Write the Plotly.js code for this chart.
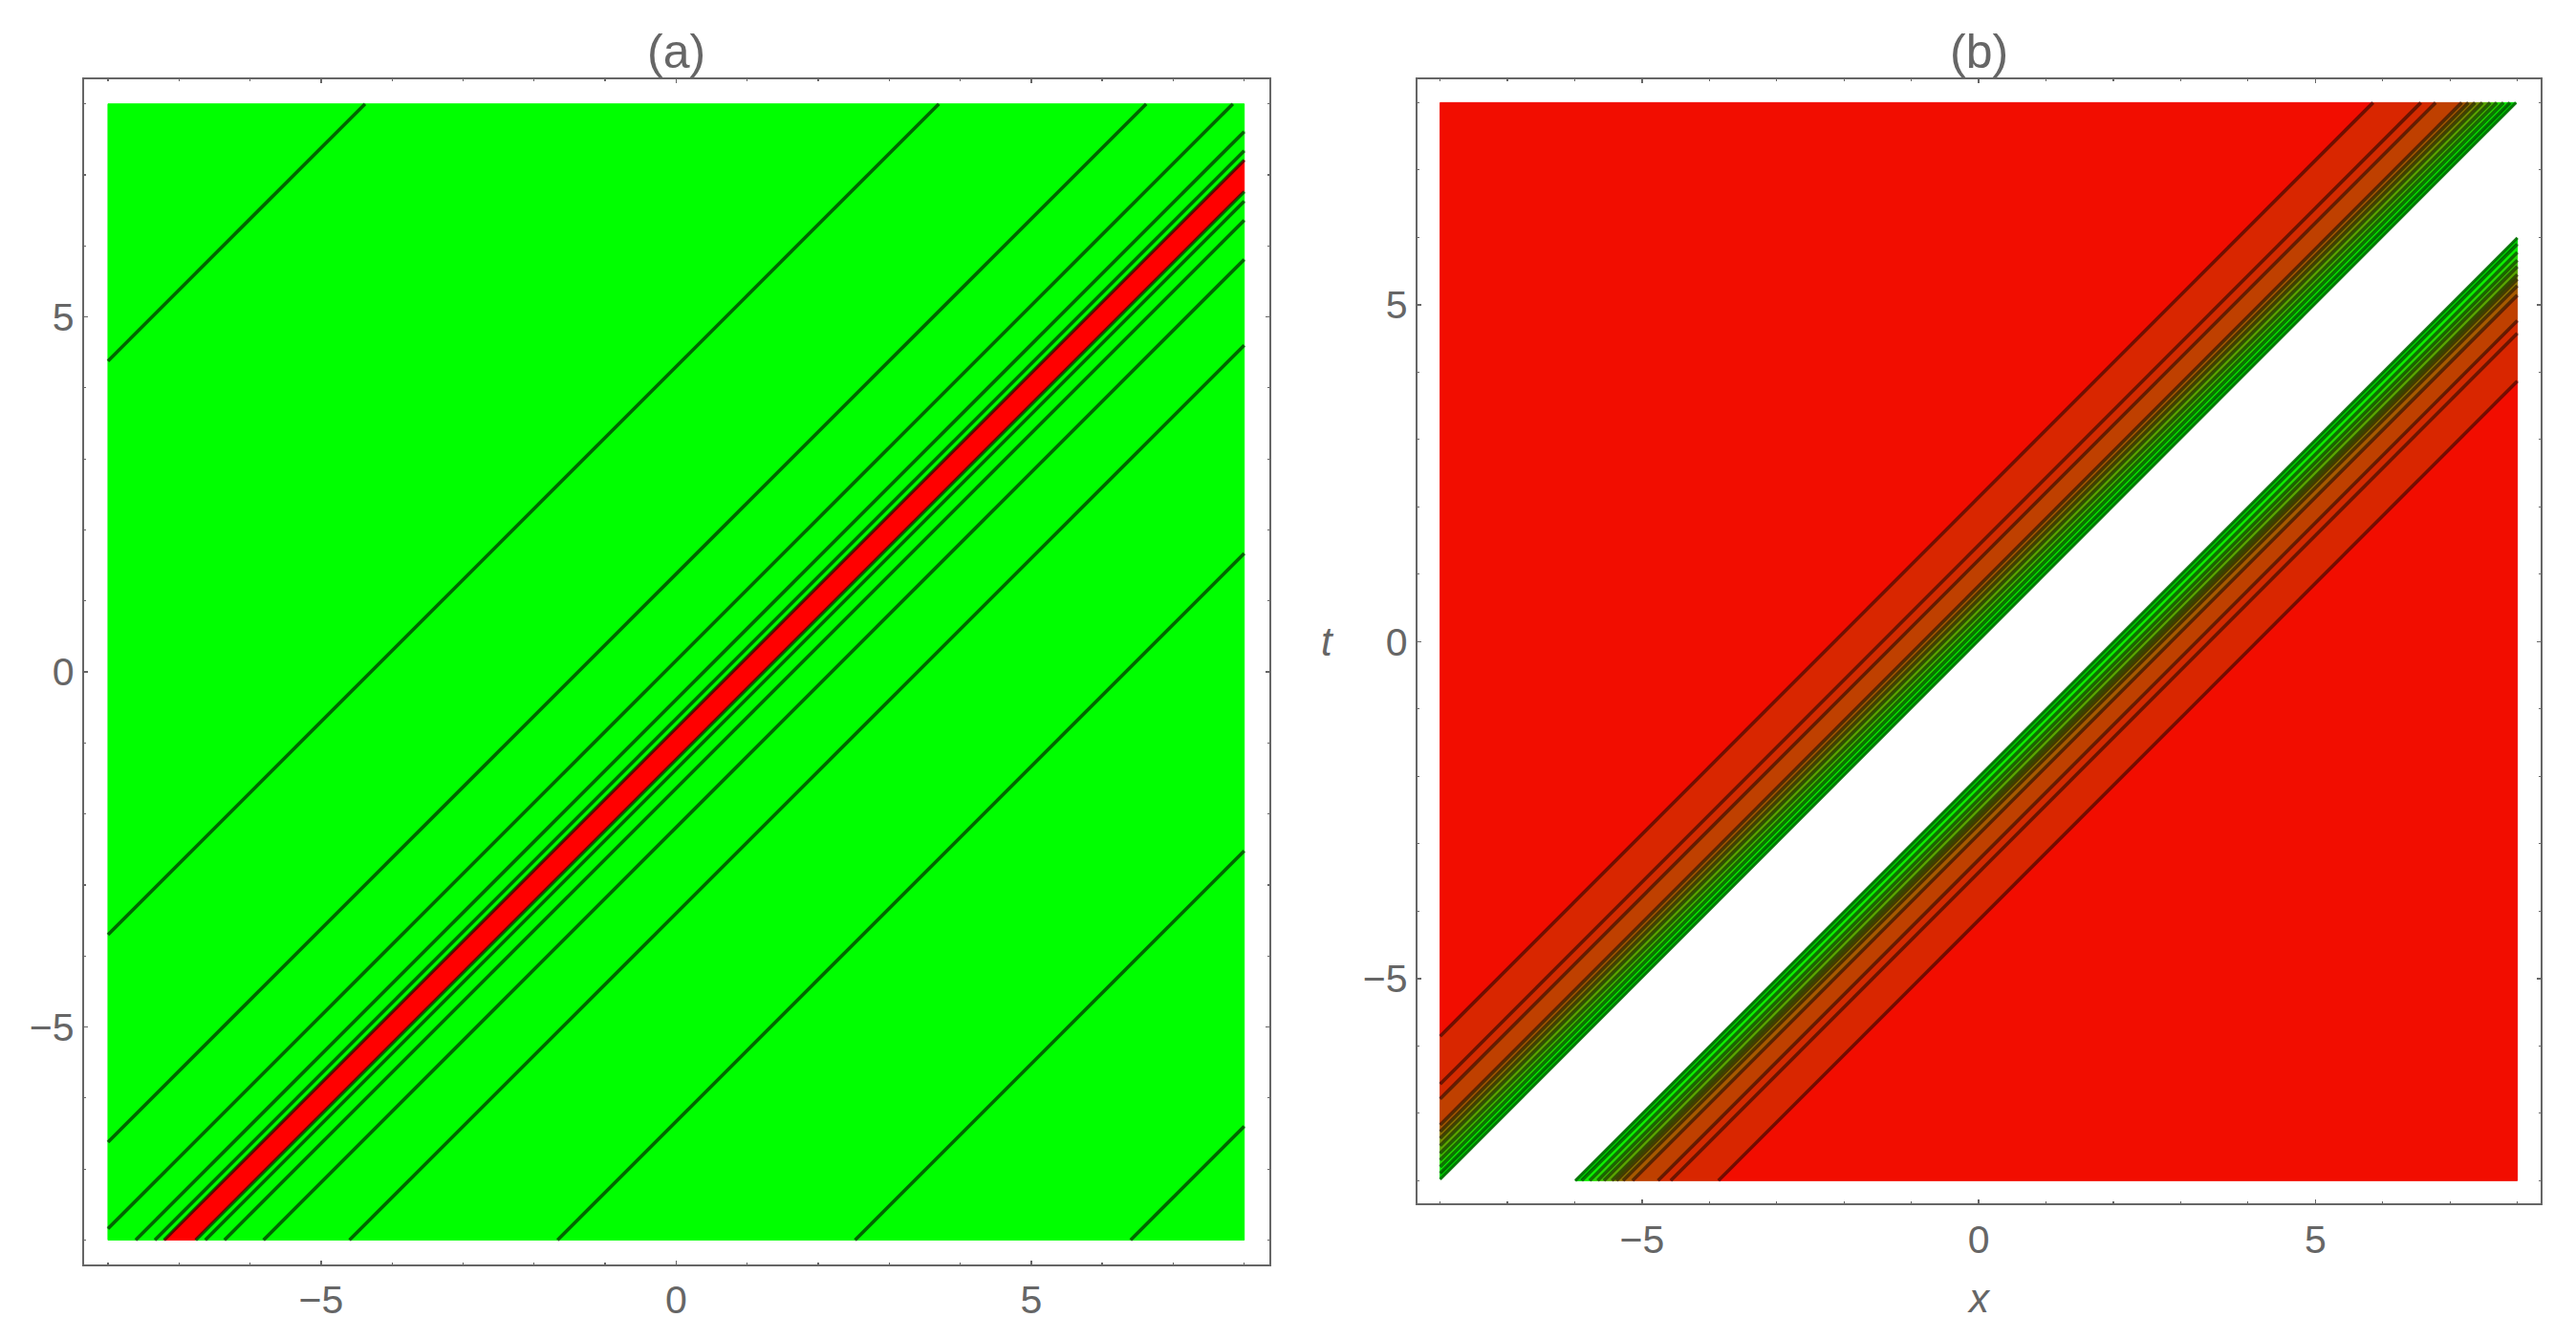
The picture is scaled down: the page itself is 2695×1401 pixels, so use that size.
<!DOCTYPE html>
<html><head><meta charset="utf-8">
<script src="https://cdn.plot.ly/plotly-3.0.1.min.js"></script>
<style>html,body{margin:0;padding:0;background:#fff;}#chart{width:2695px;height:1401px;}</style>
</head><body><div id="chart"></div>
<script>
// ---------- data ----------
// Every contour is a straight line t = x - c ; c is the offset listed below.
const dataExtent = [-8, 8];              // x and t are both plotted on [-8, 8]
const tickValues = [-5, 0, 5];

// Panel (a)
const aLevels = [-12.38, -4.30, -1.38, -0.16, 0.39, 0.66, 0.79, 1.235, 1.37, 1.64, 2.19, 3.40, 6.33, 10.52, 14.40];
// colour of each region: region 0 lies before the first level, region k between level k-1 and level k
const aRegionColors = ['#00FF00','#00FF00','#00FF00','#00FF00','#00FF00','#00FF00','#00FF00','#FF0000',
                       '#00FF00','#00FF00','#00FF00','#00FF00','#00FF00','#00FF00','#00FF00','#00FF00'];
const aLineLevels = aLevels;

// Panel (b)  (region between -0.02 and 2.008 is undefined: left white)
const bLevels = [-2.143, -1.433, -1.214, -0.827, -0.727, -0.628, -0.519, -0.404, -0.305, -0.205, -0.11, -0.02,
                 2.008, 2.102, 2.221, 2.339, 2.433, 2.551, 2.62, 2.717, 2.858, 3.236, 3.425, 4.133];
const bRegionColors = ['#F20D00','#D92600','#D42A00','#BF4000','#A65900','#8C7300','#738C00','#59A600',
                       '#40BF00','#26D900','#0DF200','#00D000', null,
                       '#00D000','#0DF200','#26D900','#40BF00','#59A600','#738C00','#8C7300','#A65900',
                       '#BF4000','#D42A00','#D92600','#F20D00'];
const bLineLevels = [-2.143, -1.433, -1.214, -0.827, -0.727, -0.628, -0.519, -0.404, -0.305, -0.205, -0.11,
                     2.102, 2.221, 2.339, 2.433, 2.551, 2.62, 2.717, 2.858, 3.236, 3.425, 4.133];
const bEdgeLevels = [-0.02, 2.008];

const panelTitles = ['(a)', '(b)'];
const xLabel = 'x', tLabel = 't';

// ---------- geometry helpers ----------
function clipHalf(poly, f) {
  const out = [];
  for (let i = 0; i < poly.length; i++) {
    const a = poly[i], b = poly[(i + 1) % poly.length];
    const fa = f(a), fb = f(b);
    if (fa >= 0) out.push(a);
    if ((fa >= 0) !== (fb >= 0)) {
      const s = fa / (fa - fb);
      out.push([a[0] + s * (b[0] - a[0]), a[1] + s * (b[1] - a[1])]);
    }
  }
  return out;
}
function strip(lo, hi) {
  const [m, M] = dataExtent;
  let poly = [[m, m], [M, m], [M, M], [m, M]];
  if (lo !== null) poly = clipHalf(poly, p => (p[0] - p[1]) - lo);
  if (hi !== null) poly = clipHalf(poly, p => hi - (p[0] - p[1]));
  return poly;
}
function regionTraces(levels, colors, xa, ya) {
  const traces = [];
  for (let k = 0; k <= levels.length; k++) {
    const col = colors[k];
    if (!col) continue;
    const lo = k === 0 ? null : levels[k - 1];
    const hi = k === levels.length ? null : levels[k];
    const poly = strip(lo, hi);
    if (poly.length < 3) continue;
    traces.push({
      type: 'scatter', mode: 'lines', xaxis: xa, yaxis: ya,
      x: poly.map(p => p[0]).concat([poly[0][0]]),
      y: poly.map(p => p[1]).concat([poly[0][1]]),
      fill: 'toself', fillcolor: col, line: {color: col, width: 1},
      hoverinfo: 'skip', showlegend: false
    });
  }
  return traces;
}
function lineTrace(levels, xa, ya, color, width) {
  const [m, M] = dataExtent;
  const xs = [], ys = [];
  levels.forEach(c => {
    const x0 = Math.max(m, m + c), x1 = Math.min(M, M + c);
    if (x0 >= x1) return;
    xs.push(x0, x1, null); ys.push(x0 - c, x1 - c, null);
  });
  return {type: 'scatter', mode: 'lines', xaxis: xa, yaxis: ya, x: xs, y: ys,
          line: {color: color, width: width}, hoverinfo: 'skip', showlegend: false};
}

const traces = [
  ...regionTraces(aLevels, aRegionColors, 'x', 'y'),
  lineTrace(aLineLevels, 'x', 'y', 'rgba(0,0,0,0.6)', 3.6),
  ...regionTraces(bLevels, bRegionColors, 'x2', 'y2'),
  lineTrace(bLineLevels, 'x2', 'y2', 'rgba(0,0,0,0.5)', 3.6),
  lineTrace(bEdgeLevels, 'x2', 'y2', 'rgba(0,110,0,0.9)', 3)
];

// ---------- layout ----------
const W = 2695, H = 1401;
const FONT = 'Liberation Sans, Arial, sans-serif';
const GREY = '#666666';
function axis(domain, anchor, range) {
  return {
    domain: domain, anchor: anchor, range: range,
    showline: true, linecolor: GREY, linewidth: 2, mirror: 'allticks',
    ticks: 'inside', ticklen: 4, tickwidth: 1.5, tickcolor: GREY,
    tickvals: tickValues, ticktext: tickValues.map(v => v < 0 ? '\u2212' + Math.abs(v) : String(v)),
    minor: {tickmode: 'linear', tick0: 0, dtick: 1, ticks: 'inside', ticklen: 2, tickwidth: 1.2, tickcolor: GREY, showgrid: false},
    showgrid: false, zeroline: false, fixedrange: true,
    tickfont: {family: FONT, size: 41, color: GREY}
  };
}
const rng = [-8.34, 8.35];
const layout = {
  width: W, height: H, margin: {l: 0, r: 0, t: 0, b: 0},
  paper_bgcolor: '#fff', plot_bgcolor: '#fff', showlegend: false,
  xaxis:  axis([87.7 / W, 1327.7 / W], 'y', rng),
  yaxis:  axis([1 - 1322.7 / H, 1 - 82.7 / H], 'x', rng),
  xaxis2: axis([1482.7 / W, 2658.3 / W], 'y2', rng),
  yaxis2: axis([1 - 1259.3 / H, 1 - 82.7 / H], 'x2', rng),
  annotations: [
    {text: panelTitles[0], xref: 'x', x: 0, yref: 'paper', y: 1 - 54 / H, yanchor: 'middle', xanchor: 'center',
     showarrow: false, font: {family: FONT, size: 50, color: GREY}},
    {text: panelTitles[1], xref: 'x2', x: 0, yref: 'paper', y: 1 - 54 / H, yanchor: 'middle', xanchor: 'center',
     showarrow: false, font: {family: FONT, size: 50, color: GREY}},
    {text: '<i>' + xLabel + '</i>', xref: 'x2', x: 0, yref: 'paper', y: 1 - 1358 / H, yanchor: 'middle', xanchor: 'center',
     showarrow: false, font: {family: FONT, size: 42, color: GREY}},
    {text: '<i>' + tLabel + '</i>', xref: 'paper', x: 1389 / W, yref: 'y2', y: 0, yanchor: 'middle', xanchor: 'center',
     showarrow: false, font: {family: FONT, size: 42, color: GREY}}
  ]
};
Plotly.newPlot('chart', traces, layout, {displayModeBar: false, staticPlot: true});
</script></body></html>
